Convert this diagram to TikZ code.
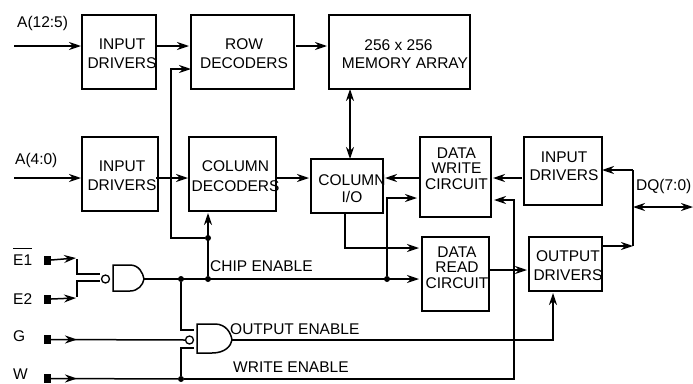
\documentclass[tikz,border=0pt]{standalone}
\usepackage{fontspec}
\setmainfont{Liberation Sans}
\usetikzlibrary{arrows.meta}
% dx, dy (down), line spacing, lines: text placed off the box centre without changing box size
\newcommand\btext[4]{\kern#1pt\raisebox{\dimexpr-#2pt-6pt\relax}[0pt][0pt]{\makebox[0pt]{\fontsize{15.5}{#3}\selectfont\begin{tabular}[c]{@{}c@{}}#4\end{tabular}}}\kern-#1pt}
\tikzset{
  x=1pt,y=-1pt,
  blockbox/.style={draw=black,line width=1.5pt,inner sep=0pt,outer sep=0pt,rectangle},
  wire/.style={draw=black,line width=1.5pt},
  arr/.style={wire,-{Stealth[length=12pt,width=8pt,inset=4pt]}},
  darr/.style={wire,{Stealth[length=12pt,width=8pt,inset=4pt]}-{Stealth[length=12pt,width=8pt,inset=4pt]}},
  lab/.style={anchor=base west,inner sep=0pt,font=\fontsize{15.5}{18}\selectfont},
  jdot/.style={circle,fill=black,inner sep=0pt,minimum size=6pt},
  pad/.style={rectangle,fill=black,inner sep=0pt,minimum width=7pt,minimum height=9pt},
  bubble/.style={circle,draw=black,line width=1.3pt,inner sep=0pt,minimum size=8pt},
  port/.style={inner sep=0pt,minimum size=0pt}
}
\newcommand\blockat[6]{\node[blockbox,minimum width=#4pt,minimum height=#5pt] (#1) at (#2,#3) {#6};}
\begin{document}
\begin{tikzpicture}
\useasboundingbox (0,0) rectangle (693,383);
% blocks
\blockat{inA}{119}{52}{74}{74}{\btext{3}{1}{19}{INPUT\\DRIVERS}}
\blockat{rowdec}{242.5}{52}{103}{74}{\btext{1.5}{1}{19}{ROW\\DECODERS}}
\blockat{mem}{399.5}{52}{141}{74}{\btext{5.5}{1}{18}{256 x 256\kern13pt\\MEMORY ARRAY}}
\blockat{inB}{120}{174}{76}{74}{\btext{2}{1}{19}{INPUT\\DRIVERS}}
\blockat{coldec}{232.5}{174}{87}{74}{\btext{3}{1}{20}{COLUMN\\DECODERS}}
\blockat{colio}{347}{186}{72}{54}{\btext{5}{2}{17}{COLUMN\\I/O}}
\blockat{dwrite}{455.5}{177}{71}{80}{\btext{1}{-9}{15.5}{DATA\\WRITE\\CIRCUIT}}
\blockat{inC}{563}{171}{78}{68}{\btext{1}{-6}{18}{INPUT\\DRIVERS}}
\blockat{dread}{455.5}{274}{67}{74}{\btext{1.5}{-7}{15.5}{DATA\\READ\\CIRCUIT}}
\blockat{outdrv}{565.5}{264}{73}{54}{\btext{2.5}{1}{19}{OUTPUT\\DRIVERS}}
% free ends and route points
\coordinate (aTop) at (14,46);
\coordinate (aBot) at (14,178);
\coordinate (dqEnd) at (693,207);
\coordinate (dqBus) at (633,207);
\coordinate (busIn) at (633,170);
\coordinate (busOut) at (633,246);
\coordinate (rowFeed) at (171,69);
\coordinate (rowCorner) at (171,238);
% pads
\node[pad] (padE1) at (47.5,260) {};
\node[pad] (padE2) at (47.5,299) {};
\node[pad] (padG) at (47.5,339.5) {};
\node[pad] (padW) at (47.5,378.5) {};
% gates
\node[port] (g1out) at (144,279) {};
\node[port] (g2out) at (232,340) {};
\draw[wire] (113,265) -- (130,265) .. controls (139,265) and (143,273) .. (144,279) .. controls (143,285) and (138,291) .. (130,291) -- (113,291) -- cycle;
\draw[wire] (197,324) -- (215,324) .. controls (226,324) and (231,333) .. (232,340) .. controls (231,346) and (225,353) .. (212,353) -- (197,353) -- cycle;
\node[bubble] (bub1) at (105.5,279) {};
\node[bubble] (bub2) at (189.5,340) {};
% junctions
\node[jdot] (jCE1) at (181,279) {};
\node[jdot] (jCE2) at (208,279) {};
\node[jdot] (jRow) at (208,238) {};
\node[jdot] (jCE3) at (387,279) {};
\node[jdot] (jW) at (181,379) {};
% top rows
\draw[arr,shorten >=1pt] (aTop) -- (inA.west |- aTop);
\draw[arr,shorten >=2pt] (inA.east |- aTop) -- (rowdec.west |- aTop);
\draw[arr,shorten >=2pt,shorten <=2pt] (rowdec.east |- aTop) -- (mem.west |- aTop);
\draw[arr,shorten >=1pt] (aBot) -- (inB.west |- aBot);
\draw[arr,shorten >=1pt,shorten <=-2pt] (inB.east |- aBot) -- (coldec.west |- aBot);
\draw[arr,shorten >=2pt] (coldec.east |- aBot) -- (colio.west |- aBot);
\draw[darr] (mem.south -| 350,0) -- (colio.north -| 350,0);
% enable routing
\draw[arr] (jRow) -- (rowCorner) -- (rowFeed) -- (rowdec.west |- rowFeed);
\draw[arr,shorten >=2pt] (jCE2) -- (208,211);
\draw[arr,shorten >=3pt] (g1out) -- (dread.west |- g1out);
\draw[arr,shorten >=3pt] (jCE3) -- (387,198) -- (dwrite.west |- 0,198);
% data path
\draw[arr,shorten >=2pt] (dwrite.west |- aBot) -- (colio.east |- aBot);
\draw[arr,shorten >=2pt,shorten <=2pt] (inC.west |- aBot) -- (dwrite.east |- aBot);
\draw[arr,shorten >=3pt] (345,213) -- (345,248) -- (dread.west |- 0,248);
\draw[arr,shorten >=2pt] (dread.east |- 0,270) -- (outdrv.west |- 0,270);
\draw[arr] (outdrv.east |- busOut) -- (busOut);
\draw[wire] (busOut) -- (busIn);
\draw[arr] (busIn) -- (inC.east |- busIn);
\draw[darr] (dqBus) -- (dqEnd);
% inputs
\draw[arr] (padE1.east) -- (76,258);
\draw[arr] (padE2.east) -- (76,298);
\draw[wire] (77,259) -- (77,274) -- (100,274);
\draw[wire] (77,297) -- (77,281) -- (100,281);
\draw[wire] (padG.east) -- (bub2.west);
\draw[arr] (padG.east) -- (77,339.5);
\draw[wire] (padW.east) -- (jW);
\draw[arr] (padW.east) -- (77,378.5);
% gate 2 inputs
\draw[wire] (jCE1) -- (181,330) -- (194,330);
\draw[wire] (jW) -- (181,348) -- (194,348);
% enables
\draw[arr,shorten >=2pt] (g2out) -- (553,340) -- (553,291);
\draw[arr,shorten >=3pt] (jW) -- (514,379) -- (514,200) -- (dwrite.east |- 0,200);
% labels
\node[lab] (tAhi) at (17,27) {A(12:5)};
\node[lab] (tAlo) at (15,164) {A(4:0)};
\node[lab] (tDQ) at (636,190) {DQ(7:0)};
\node[lab] (tE1) at (13,265) {$\overline{\mbox{\rule{0pt}{15pt}E1}}$};
\node[lab] (tE2) at (13,304) {E2};
\node[lab] (tG) at (13,341) {G};
\node[lab] (tW) at (13,379) {W};
\node[lab] (tCE) at (210,271) {CHIP ENABLE};
\node[lab] (tOE) at (230,334) {OUTPUT ENABLE};
\node[lab] (tWE) at (233,372) {WRITE ENABLE};
\end{tikzpicture}
\end{document}
